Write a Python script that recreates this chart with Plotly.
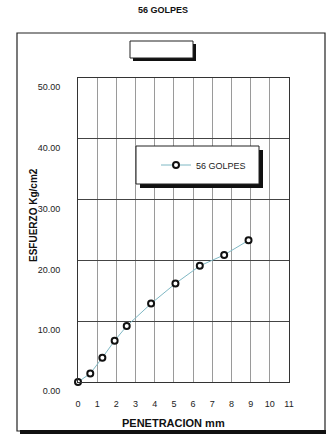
import plotly.graph_objects as go

# CBR penetration test, 56 blows per layer
penetracion_mm = [0.0, 0.64, 1.27, 1.91, 2.54, 3.81, 5.08, 6.35, 7.62, 8.89]
esfuerzo_kg_cm2 = [0.0, 1.4, 4.0, 6.8, 9.2, 12.9, 16.2, 19.1, 20.9, 23.3]
serie = "56 GOLPES"
x_ticks = list(range(0, 12))
y_ticks = [0, 10, 20, 30, 40, 50]

W, H = 326, 434
L, R, T, B = 78, 37, 78, 52
pw, ph = W - L - R, H - T - B


def px_x(p):
    return (p - L) / pw


def px_y(p):
    return (H - B - p) / ph


font = "Liberation Sans, Arial, sans-serif"

fig = go.Figure()
fig.add_trace(go.Scatter(
    x=penetracion_mm, y=esfuerzo_kg_cm2, name=serie, mode="lines+markers",
    line=dict(color="#7fb8c4", width=1),
    marker=dict(symbol="circle", size=6, color="white",
                line=dict(color="#111111", width=2)),
    cliponaxis=False,
))

shapes = []
# outer frame with bottom shadow
shapes.append(dict(type="rect", xref="paper", yref="paper",
                   x0=px_x(17), x1=px_x(325), y0=px_y(431), y1=px_y(33),
                   line=dict(color="#222222", width=1.2), layer="below"))
shapes.append(dict(type="rect", xref="paper", yref="paper",
                   x0=px_x(20), x1=px_x(330), y0=px_y(434), y1=px_y(430),
                   line=dict(width=0), fillcolor="#111111", layer="above"))
# empty header box with shadow
shapes.append(dict(type="rect", xref="paper", yref="paper",
                   x0=px_x(133), x1=px_x(196), y0=px_y(61), y1=px_y(44),
                   line=dict(width=0), fillcolor="#111111", layer="above"))
shapes.append(dict(type="rect", xref="paper", yref="paper",
                   x0=px_x(130), x1=px_x(193), y0=px_y(58), y1=px_y(41),
                   line=dict(color="#222222", width=1), fillcolor="white", layer="above"))
# legend box with shadow
shapes.append(dict(type="rect", xref="paper", yref="paper",
                   x0=px_x(140), x1=px_x(263), y0=px_y(188), y1=px_y(150),
                   line=dict(width=0), fillcolor="#111111", layer="above"))
shapes.append(dict(type="rect", xref="paper", yref="paper",
                   x0=px_x(136), x1=px_x(259), y0=px_y(184), y1=px_y(146),
                   line=dict(color="#222222", width=1), fillcolor="white", layer="above"))

fig.update_layout(
    width=W, height=H,
    margin=dict(l=L, r=R, t=T, b=B),
    paper_bgcolor="white", plot_bgcolor="white",
    font=dict(family=font, color="#222222"),
    title=dict(text="<b>56 GOLPES</b>", x=0.5, xanchor="center", y=1 - 10 / H,
               yanchor="middle", font=dict(size=9, family=font, color="#111111")),
    showlegend=True,
    legend=dict(x=px_x(156), y=px_y(165), xanchor="left", yanchor="middle",
                bgcolor="rgba(0,0,0,0)", borderwidth=0,
                font=dict(size=9, family=font, color="#222222")),
    shapes=shapes,
    annotations=[
        dict(text="<b>PENETRACION mm</b>", xref="paper", yref="paper",
             x=px_x(173), y=px_y(423), xanchor="center", yanchor="middle",
             showarrow=False, font=dict(size=11, family=font, color="#111111")),
        dict(text="<b>ESFUERZO Kg/cm2</b>", xref="paper", yref="paper",
             x=px_x(33), y=px_y(215), xanchor="center", yanchor="middle",
             textangle=-90, showarrow=False,
             font=dict(size=10, family=font, color="#111111")),
    ],
)

fig.update_xaxes(
    range=[0, 11], tickvals=x_ticks, ticktext=[str(v) for v in x_ticks],
    showgrid=True, gridcolor="#9a9a9a", gridwidth=1,
    showline=True, linecolor="#333333", linewidth=1, mirror=True,
    zeroline=False, ticks="", ticklabelstandoff=13,
    tickfont=dict(size=9, family=font, color="#222222"),
)
fig.update_yaxes(
    range=[0, 50], tickvals=y_ticks, tickformat=".2f",
    showgrid=True, gridcolor="#444444", gridwidth=1,
    showline=True, linecolor="#333333", linewidth=1, mirror=True,
    zeroline=False, ticks="", ticklabelstandoff=15, ticklabelshift=9,
    tickfont=dict(size=9, family=font, color="#222222"),
)

fig.write_html("out.html")
